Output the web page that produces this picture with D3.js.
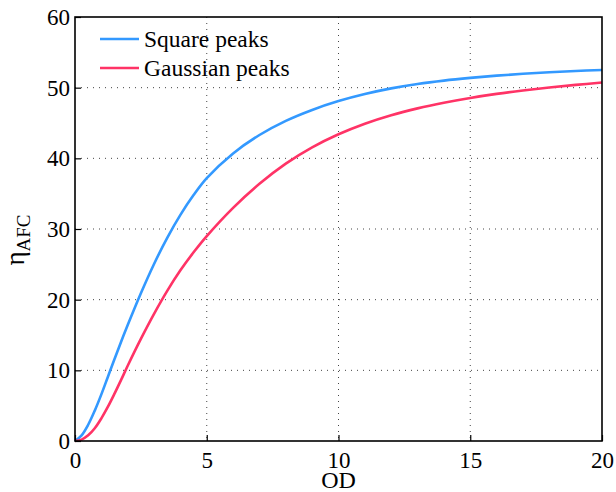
<!DOCTYPE html>
<html><head><meta charset="utf-8">
<script src="https://cdn.jsdelivr.net/npm/d3@7"></script>
<style>body{margin:0;background:#fff}svg{display:block}</style>
</head><body>
<svg id="c" width="616" height="492"></svg>
<script>
const od = [0,0.25,0.5,0.75,1,1.25,1.5,1.75,2,2.5,3,3.5,4,4.5,5,6,7,8,9,10,11,12,13,14,15,16,17,18,19,20];
const squarePeaks = [0,0.8,2.3,4.3,6.6,9.1,11.6,14.05,16.4,20.9,25.05,28.75,32.0,34.8,37.2,40.7,43.3,45.3,46.85,48.1,49.1,49.9,50.52,51.0,51.38,51.7,51.96,52.18,52.36,52.51];
const gaussianPeaks = [0,0.2,0.8,1.8,3.2,4.85,6.7,8.65,10.65,14.45,18.0,21.25,24.15,26.7,29.0,33.0,36.4,39.25,41.55,43.4,44.9,46.1,47.07,47.87,48.55,49.12,49.6,50.02,50.39,50.72];
const seriesNames = ["Square peaks","Gaussian peaks"];
const xTicks = [0,5,10,15,20];
const yTicks = [0,10,20,30,40,50,60];
const colors = ["#3399ff","#ff3366"];

const FONT = '"Liberation Serif","Times New Roman",Times,serif';
const svg = d3.select("#c");
const L=75,R=602,T=17,B=441;
const x = d3.scaleLinear().domain([0,20]).range([L,R]);
const y = d3.scaleLinear().domain([0,60]).range([B,T]);

// grid
const g = svg.append("g");
g.selectAll(".gx").data(xTicks.slice(1,-1)).enter().append("line")
 .attr("x1",d=>x(d)).attr("x2",d=>x(d)).attr("y1",T).attr("y2",B)
 .attr("stroke","#444").attr("stroke-width",1).attr("stroke-dasharray","1,5");
g.selectAll(".gy").data(yTicks.slice(1,-1)).enter().append("line")
 .attr("y1",d=>y(d)).attr("y2",d=>y(d)).attr("x1",L).attr("x2",R)
 .attr("stroke","#444").attr("stroke-width",1).attr("stroke-dasharray","1,5");

// lines
const line = d3.line().x((d,i)=>x(od[i])).y(d=>y(d)).curve(d3.curveCatmullRom.alpha(0.5));
[squarePeaks,gaussianPeaks].forEach((s,i)=>{
  svg.append("path").datum(s).attr("d",line).attr("fill","none")
    .attr("stroke",colors[i]).attr("stroke-width",2.6).attr("stroke-linejoin","round");
});

// axes
const xa = svg.append("g").attr("transform",`translate(0,${B})`)
  .call(d3.axisBottom(x).tickValues(xTicks).tickSize(-6).tickPadding(11).tickFormat(d3.format("d")));
const ya = svg.append("g").attr("transform",`translate(${L},0)`)
  .call(d3.axisLeft(y).tickValues(yTicks).tickSize(-6).tickPadding(5).tickFormat(d3.format("d")));
[xa,ya].forEach(a=>{
  a.attr("font-family",FONT).attr("font-size",23);
  a.select(".domain").remove();
  a.selectAll(".tick line").attr("stroke","#000").attr("stroke-width",1.2);
  a.selectAll("text").style("font-family",FONT).style("font-size","23px").attr("fill","#000");
});
xa.selectAll("text").attr("dy","0.71em");
// frame
svg.append("rect").attr("x",L).attr("y",T).attr("width",R-L).attr("height",B-T)
  .attr("fill","none").attr("stroke","#000").attr("stroke-width",1.6);

// axis titles
svg.append("text").attr("x",(L+R)/2).attr("y",488).attr("text-anchor","middle")
  .style("font-family",FONT).style("font-size","24px").text("OD");
const yl = svg.append("text").attr("transform","translate(24,240) rotate(-90)")
  .attr("text-anchor","middle").style("font-family",FONT).style("font-size","27px");
yl.append("tspan").text("η");
yl.append("tspan").attr("dy",6).style("font-size","19px").text("AFC");

// legend
seriesNames.forEach((n,i)=>{
  const ly = 39 + i*29;
  svg.append("line").attr("x1",100).attr("x2",139).attr("y1",ly).attr("y2",ly)
    .attr("stroke",colors[i]).attr("stroke-width",2.6);
  svg.append("text").attr("x",144).attr("y",ly+8).style("font-family",FONT)
    .style("font-size","23.5px").text(n);
});
</script>
</body></html>
